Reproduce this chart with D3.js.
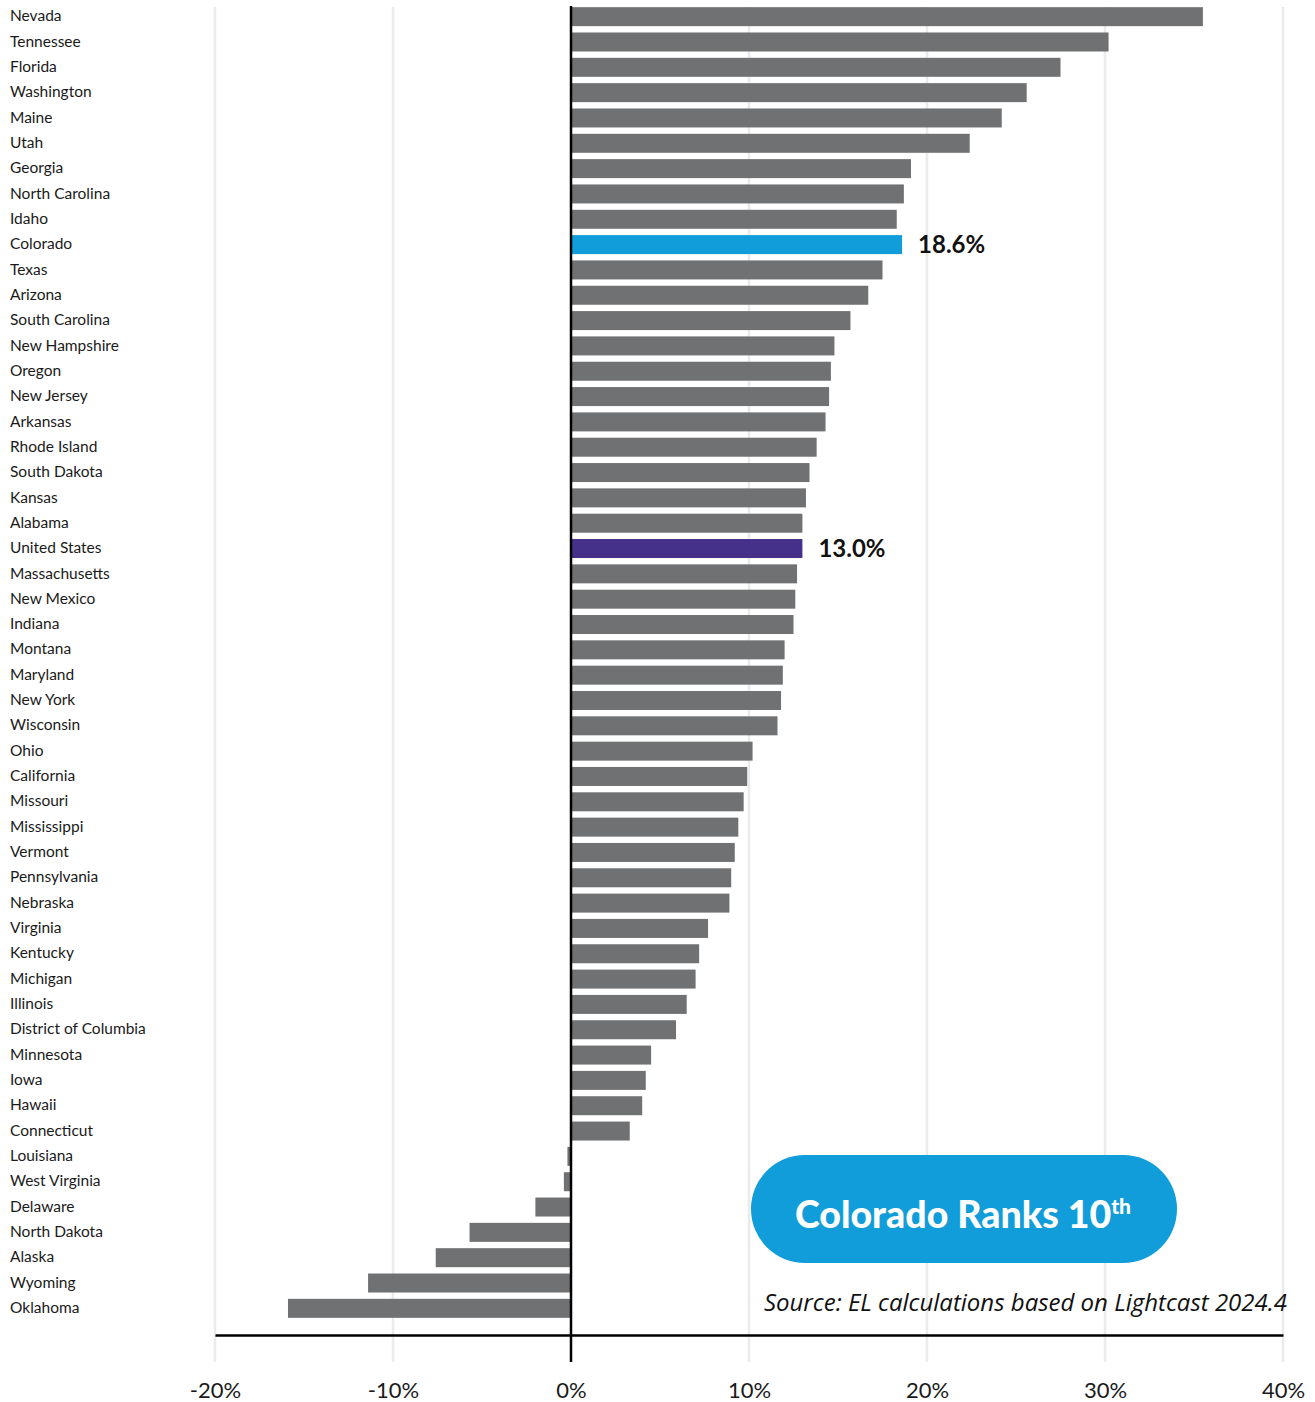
<!DOCTYPE html>
<html>
<head>
<meta charset="utf-8">
<script src="https://cdn.jsdelivr.net/npm/d3@7"></script>
<style>
  html, body { margin: 0; padding: 0; background: #ffffff; }
  svg { display: block; }
</style>
</head>
<body>
<svg id="chart" width="1315" height="1402" font-family="Lato, 'Open Sans', sans-serif"></svg>
<script>
// Job growth by state, ranked high to low (percent)
const states = [
  "Nevada", "Tennessee", "Florida", "Washington", "Maine", "Utah", "Georgia",
  "North Carolina", "Idaho", "Colorado", "Texas", "Arizona", "South Carolina",
  "New Hampshire", "Oregon", "New Jersey", "Arkansas", "Rhode Island",
  "South Dakota", "Kansas", "Alabama", "United States", "Massachusetts",
  "New Mexico", "Indiana", "Montana", "Maryland", "New York", "Wisconsin",
  "Ohio", "California", "Missouri", "Mississippi", "Vermont", "Pennsylvania",
  "Nebraska", "Virginia", "Kentucky", "Michigan", "Illinois",
  "District of Columbia", "Minnesota", "Iowa", "Hawaii", "Connecticut",
  "Louisiana", "West Virginia", "Delaware", "North Dakota", "Alaska",
  "Wyoming", "Oklahoma"
];

const growth = [
  35.5, 30.2, 27.5, 25.6, 24.2, 22.4, 19.1,
  18.7, 18.3, 18.6, 17.5, 16.7, 15.7,
  14.8, 14.6, 14.5, 14.3, 13.8,
  13.4, 13.2, 13.0, 13.0, 12.7,
  12.6, 12.5, 12.0, 11.9, 11.8, 11.6,
  10.2, 9.9, 9.7, 9.4, 9.2, 9.0,
  8.9, 7.7, 7.2, 7.0, 6.5,
  5.9, 4.5, 4.2, 4.0, 3.3,
  -0.2, -0.4, -2.0, -5.7, -7.6,
  -11.4, -15.9
];

const xTicks = [-20, -10, 0, 10, 20, 30, 40];
const xTickLabels = ["-20%", "-10%", "0%", "10%", "20%", "30%", "40%"];

// States that carry a value label and their own colour
const highlighted = ["Colorado", "United States"];
const highlightColors = { "Colorado": "#109dd9", "United States": "#45308a" };

const badgeText = "Colorado Ranks 10";
const badgeSup = "th";
const sourceText = "Source: EL calculations based on Lightcast 2024.4";

const data = states.map((s, i) => ({ state: s, value: growth[i] }));

const svg = d3.select("#chart");

const x = d3.scaleLinear().domain([-20, 40]).range([215, 1283]);
const y = d3.scaleBand()
  .domain(states)
  .range([4, 1321])
  .paddingInner(0.25)
  .paddingOuter(0.125);

// vertical gridlines
svg.append("g")
  .selectAll("line")
  .data(xTicks.filter(t => t !== 0))
  .join("line")
  .attr("x1", d => x(d)).attr("x2", d => x(d))
  .attr("y1", 7).attr("y2", 1362)
  .attr("stroke", "#ebebeb")
  .attr("stroke-width", 2.5);

// bars
svg.append("g")
  .selectAll("rect")
  .data(data)
  .join("rect")
  .attr("x", d => Math.min(x(0), x(d.value)))
  .attr("width", d => Math.abs(x(d.value) - x(0)))
  .attr("y", d => y(d.state))
  .attr("height", y.bandwidth())
  .attr("fill", d => highlightColors[d.state] || "#707173");

// zero line
svg.append("line")
  .attr("x1", x(0)).attr("x2", x(0))
  .attr("y1", 6).attr("y2", 1362)
  .attr("stroke", "#000")
  .attr("stroke-width", 2.5);

// baseline axis
const xAxis = d3.axisBottom(x)
  .tickValues(xTicks)
  .tickFormat((d, i) => xTickLabels[i])
  .tickSize(0)
  .tickPadding(47);

const axisG = svg.append("g")
  .attr("transform", "translate(0,1335)")
  .call(xAxis)
  .attr("font-family", null);
axisG.select(".domain").attr("stroke", "#000").attr("stroke-width", 2.5);
axisG.selectAll(".tick text")
  .attr("font-size", 22)
  .attr("fill", "#1a1a1a");

// state labels
svg.append("g")
  .selectAll("text")
  .data(data)
  .join("text")
  .attr("x", 10)
  .attr("y", d => y(d.state) + y.bandwidth() / 2)
  .attr("dy", "0.3em")
  .attr("font-size", 15.5)
  .attr("fill", "#1a1a1a")
  .text(d => d.state);

// value labels on highlighted bars
svg.append("g")
  .selectAll("text")
  .data(data.filter(d => highlighted.includes(d.state)))
  .join("text")
  .attr("x", d => x(d.value) + 16)
  .attr("y", d => y(d.state) + y.bandwidth() / 2)
  .attr("dy", "0.36em")
  .attr("font-size", 24)
  .attr("font-weight", 700)
  .attr("fill", "#111")
  .text(d => d3.format(".1f")(d.value) + "%");

// rank badge
const badge = svg.append("g");
badge.append("rect")
  .attr("x", 751).attr("y", 1155)
  .attr("width", 426).attr("height", 108)
  .attr("rx", 54).attr("ry", 54)
  .attr("fill", "#109dd9");
const bt = badge.append("text")
  .attr("x", 963).attr("y", 1228)
  .attr("text-anchor", "middle")
  .attr("fill", "#fff")
  .attr("font-size", 37.5)
  .attr("font-weight", 900);
bt.append("tspan").text(badgeText);
bt.append("tspan")
  .attr("dy", -14)
  .attr("font-size", 21)
  .text(badgeSup);

// source note
svg.append("text")
  .attr("x", 1287).attr("y", 1311)
  .attr("text-anchor", "end")
  .attr("font-family", "'Open Sans', sans-serif")
  .attr("font-size", 24)
  .attr("font-style", "italic")
  .attr("fill", "#111")
  .text(sourceText);
</script>
</body>
</html>
